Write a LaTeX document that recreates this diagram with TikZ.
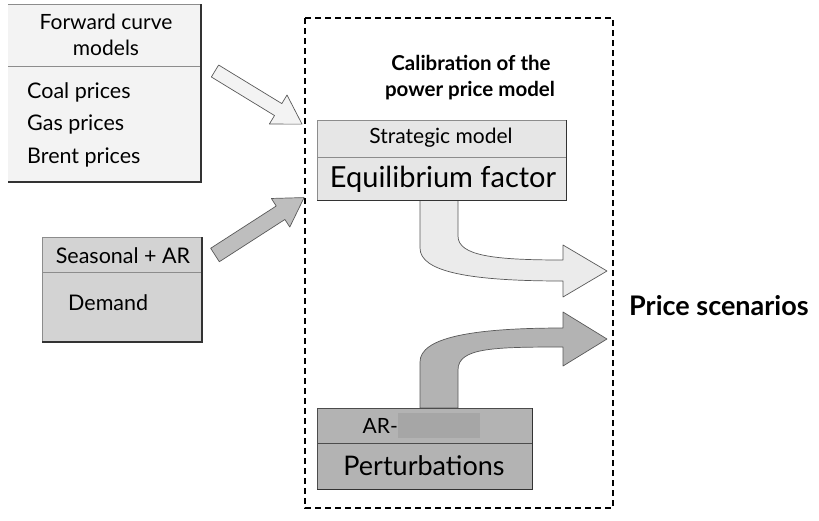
\documentclass[tikz,border=0pt]{standalone}
\usepackage{fontspec}
\setmainfont{Lato}
\usetikzlibrary{calc,positioning}

\definecolor{fwdfill}{HTML}{F3F3F3}
\definecolor{seafill}{HTML}{D3D3D3}
\definecolor{strfill}{HTML}{E6E6E6}
\definecolor{perfill}{HTML}{B3B3B3}
\definecolor{hidefill}{HTML}{A6A6A6}

\tikzset{
  panel/.style={draw=black!45, line width=0.6pt},
  shadowline/.style={draw=black!80, line width=1.6pt},
  fatarrow/.style={draw=black!65, line width=0.7pt, line join=round},
  txt/.style={inner sep=0pt, font=\fontsize{21}{23}\selectfont},
  listtxt/.style={txt, anchor=west, font=\fontsize{21.5}{23}\selectfont},
}

\begin{document}
\begin{tikzpicture}[x=1pt, y=-1pt]
  \useasboundingbox (0,0) rectangle (819,520);

  % input boxes
  \fill[fwdfill] (8,4) rectangle (201,182);
  \draw[panel] (8,4) -- (201,4) (8,66) -- (201,66);
  \draw[shadowline] (201,4) -- (201,182) -- (8,182);
  \node[txt] (fwd1) at (106,22) {Forward curve};
  \node[txt] (fwd2) at (106,48) {models};
  \node[listtxt] (coal) at (27,92) {Coal prices};
  \node[listtxt] (gas) at (27,124) {Gas prices};
  \node[listtxt] (brent) at (27,157) {Brent prices};

  \fill[seafill] (42,237) rectangle (202,342);
  \draw[panel] (42,342) -- (42,237) -- (202,237) (42,272) -- (202,272);
  \draw[shadowline] (202,237) -- (202,342) -- (42,342);
  \node[txt, font=\fontsize{21.5}{23}\selectfont] (seas) at (123,256) {Seasonal + AR};
  \node[listtxt] (dem) at (68,303) {Demand};

  % calibration frame
  \draw[dashed, dash pattern=on 6pt off 4pt, line width=1.5pt] (305,18) rectangle (613,508);
  \node[txt, font=\fontsize{20.5}{22}\selectfont\bfseries] (cal1) at (471,63) {Calibration of the};
  \node[txt, font=\fontsize{20.5}{22}\selectfont\bfseries] (cal2) at (470,91) {power price model};

  % curved arrows (drawn under the boxes)
  \filldraw[fatarrow, fill=strfill!80!white] (420,200) -- (420,248)
    .. controls (420,272) and (470,281) .. (563,281) -- (563,297) -- (607,271)
    -- (563,245) -- (563,260) .. controls (495,260) and (458,256) .. (458,236)
    -- (458,200) -- cycle;
  \filldraw[fatarrow, fill=perfill] (420,408) -- (420,362)
    .. controls (420,338) and (470,328) .. (563,328) -- (563,312) -- (607,339)
    -- (563,366) -- (563,347) .. controls (492,347) and (458,348) .. (458,370)
    -- (458,408) -- cycle;

  \fill[strfill] (317,120) rectangle (566,200);
  \draw[panel] (317,200) -- (317,120) -- (566,120) (317,157) -- (566,157);
  \draw[shadowline, line width=1pt] (566,120) -- (566,200) -- (317,200);
  \node[txt] (strat) at (441,138) {Strategic model};
  \node[txt, font=\fontsize{29}{31}\selectfont] (equi) at (443,179) {Equilibrium factor};

  \fill[perfill] (317,408) rectangle (532,489);
  \draw[panel, draw=black!70] (317,489) -- (317,408) -- (532,408) (317,443) -- (532,443);
  \draw[shadowline, line width=1pt] (532,408) -- (532,489) -- (317,489);
  \fill[hidefill] (398,413) rectangle (480,438);
  \node[txt, anchor=east] (ar) at (398,426) {AR-};
  \node[txt, font=\fontsize{27}{29}\selectfont] (pert) at (424,466) {Perturbations};

  % straight arrows into the frame
  \begin{scope}[shift={(215,71)}, rotate=-31.4]
    \filldraw[fatarrow, fill=fwdfill] (0,-7) -- (74,-7) -- (74,-17) -- (102,0)
      -- (74,17) -- (74,7) -- (0,7) -- cycle;
  \end{scope}
  \begin{scope}[shift={(215,255)}, rotate=32.8]
    \filldraw[fatarrow, fill=seafill!90!black] (0,-8) -- (78,-8) -- (78,-17) -- (106,0)
      -- (78,17) -- (78,8) -- (0,8) -- cycle;
  \end{scope}

  \node[txt, anchor=west, font=\fontsize{27}{29}\selectfont\bfseries] (out) at (629,306) {Price scenarios};
\end{tikzpicture}
\end{document}
